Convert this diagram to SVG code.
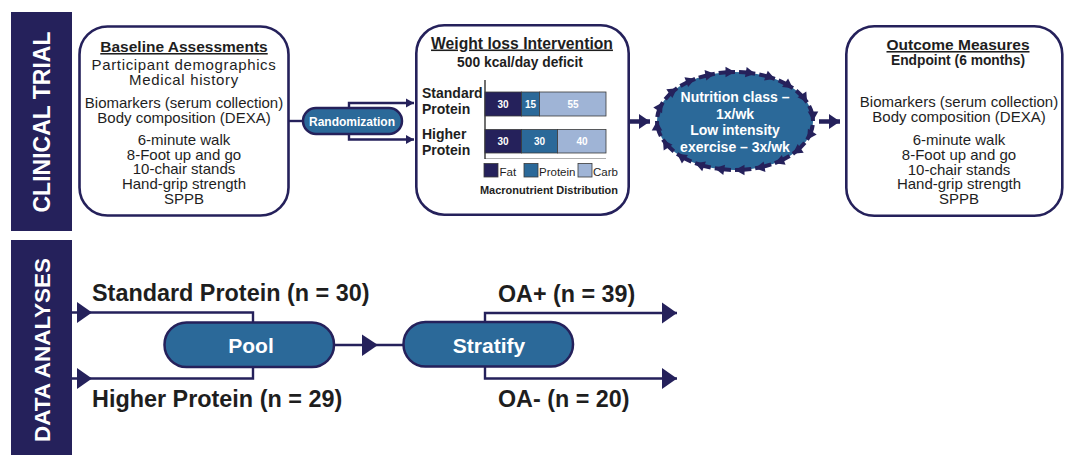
<svg xmlns="http://www.w3.org/2000/svg" width="1066" height="455" viewBox="0 0 1066 455">
<style>
.nav{fill:#25215b}
.box{fill:#fff;stroke:#25215b;stroke-width:2.6}
.pill{fill:#2b6999;stroke:#25215b;stroke-width:2.5}
.t{font-family:"Liberation Sans",Arial,sans-serif;fill:#1e1e1e}
.c{text-anchor:middle}
.b{font-weight:bold}
.w{fill:#fff}
.u{text-decoration:underline}
.ls{letter-spacing:0.65px}
.ln{fill:none;stroke:#25215b;stroke-width:2.4}
.thick{fill:none;stroke:#25215b;stroke-width:4.5}
.ring{fill:none;stroke:#25215b;stroke-width:4;stroke-dasharray:0 4 40 0;marker-end:url(#rh)}
.seg{stroke:#3a3a3a;stroke-width:0.8}
</style>
<defs>
<marker id="ah" markerUnits="userSpaceOnUse" markerWidth="9" markerHeight="10" refX="8" refY="4.5" orient="auto" overflow="visible"><path d="M0,0 L8,4.5 L0,9 Z" fill="#25215b"/></marker>
<marker id="bh" markerUnits="userSpaceOnUse" markerWidth="16" markerHeight="22" refX="15" refY="10.5" orient="auto" overflow="visible"><path d="M0,0 L15,10.5 L0,21 Z" fill="#25215b"/></marker>
<marker id="th" markerUnits="userSpaceOnUse" markerWidth="12" markerHeight="16" refX="11" refY="7.5" orient="auto" overflow="visible"><path d="M0,0 L11,7.5 L0,15 Z" fill="#25215b"/></marker>
<marker id="rh" markerUnits="userSpaceOnUse" markerWidth="11" markerHeight="11" refX="9.5" refY="5.25" orient="auto" overflow="visible"><path d="M0,0 L9.5,5.25 L0,10.5 Z" fill="#25215b"/></marker>
</defs>

<g id="section-clinical-trial">
<rect class="nav" x="11" y="12" width="61" height="219"/>
<text class="t b w c" font-size="23" transform="translate(50,122) rotate(-90)">CLINICAL TRIAL</text>
</g>
<g id="section-data-analyses">
<rect class="nav" x="11" y="240" width="61" height="215"/>
<text class="t b w c" font-size="22.5" transform="translate(50,350) rotate(-90)">DATA ANALYSES</text>
</g>

<g id="connectors">
<path class="ln" d="M288.5,121 H303"/>
<path class="ln" marker-end="url(#ah)" d="M349,108 V103 H414"/>
<path class="ln" marker-end="url(#ah)" d="M349,134 V139.5 H414"/>
<path class="thick" marker-end="url(#th)" d="M630,121.5 H650"/>
<path class="thick" marker-end="url(#th)" d="M819,121.5 H840"/>
<path class="ln" d="M72,312.5 H253 V322"/>
<path class="ln" d="M72,378.5 H253 V367"/>
<polygon points="77,302 92,312.5 77,323" fill="#25215b"/>
<polygon points="77,368 92,378.5 77,389" fill="#25215b"/>
<path class="ln" d="M334,345 H403"/>
<polygon points="362,334.5 378,345 362,356" fill="#25215b"/>
<path class="ln" marker-end="url(#bh)" d="M485,322 V313 H677"/>
<path class="ln" marker-end="url(#bh)" d="M485,367 V378.5 H677"/>
</g>

<g id="baseline-assessments">
<rect class="box" x="79.5" y="26.5" width="209" height="189" rx="28"/>
<text class="t b c u" font-size="15.5" x="184" y="52">Baseline Assessments</text>
<text class="t c ls" font-size="15" x="184" y="70">Participant demographics</text>
<text class="t c ls" font-size="15" x="184" y="85">Medical history</text>
<text class="t c" font-size="15" x="184" y="107.5">Biomarkers (serum collection)</text>
<text class="t c" font-size="15" x="184" y="122.5">Body composition (DEXA)</text>
<text class="t c" font-size="15" x="184" y="145">6-minute walk</text>
<text class="t c" font-size="15" x="184" y="159.5">8-Foot up and go</text>
<text class="t c" font-size="15" x="184" y="174">10-chair stands</text>
<text class="t c" font-size="15" x="184" y="188.5">Hand-grip strength</text>
<text class="t c" font-size="15" x="184" y="203.5">SPPB</text>
</g>

<g id="randomization">
<rect class="pill" x="303" y="108" width="99" height="26" rx="13"/>
<text class="t b w c" font-size="12" x="352" y="125.5">Randomization</text>
</g>

<g id="weight-loss-intervention">
<rect class="box" x="416.3" y="25.3" width="212.4" height="189.4" rx="28"/>
<text class="t b c u" font-size="15.7" x="522" y="48.5">Weight loss Intervention</text>
<text class="t b c" font-size="13.8" x="520" y="66.5">500 kcal/day deficit</text>
<text class="t b" font-size="14" x="422" y="97.5">Standard</text>
<text class="t b" font-size="14" x="422" y="113.5">Protein</text>
<text class="t b" font-size="14" x="422" y="138.5">Higher</text>
<text class="t b" font-size="14" x="422" y="155">Protein</text>
<line x1="485" y1="158.5" x2="606" y2="158.5" stroke="#9a9a9a" stroke-width="0.8"/>
<line x1="485" y1="80" x2="485" y2="159" stroke="#222" stroke-width="1.3"/>
<rect class="seg" x="485" y="92" width="36.5" height="24" fill="#25215b"/>
<rect class="seg" x="521.5" y="92" width="18" height="24" fill="#2b6999"/>
<rect class="seg" x="539.5" y="92" width="66.5" height="24" fill="#9fb4d6"/>
<rect class="seg" x="485" y="129.5" width="36.5" height="23.5" fill="#25215b"/>
<rect class="seg" x="521.5" y="129.5" width="36" height="23.5" fill="#2b6999"/>
<rect class="seg" x="557.5" y="129.5" width="48.5" height="23.5" fill="#9fb4d6"/>
<text class="t b w c" font-size="10" x="503" y="107.5">30</text>
<text class="t b w c" font-size="10" x="530.5" y="107.5">15</text>
<text class="t b w c" font-size="10" x="573" y="107.5">55</text>
<text class="t b w c" font-size="10" x="503" y="145">30</text>
<text class="t b w c" font-size="10" x="539.5" y="145">30</text>
<text class="t b w c" font-size="10" x="582" y="145">40</text>
<rect class="seg" x="484" y="163.5" width="14" height="13.5" fill="#25215b"/>
<text class="t" font-size="11.5" x="499.5" y="176" fill="#333">Fat</text>
<rect class="seg" x="524" y="163.5" width="14" height="13.5" fill="#2b6999"/>
<text class="t" font-size="11.5" x="539" y="176" fill="#333">Protein</text>
<rect class="seg" x="578" y="163.5" width="14" height="13.5" fill="#9fb4d6"/>
<text class="t" font-size="11.5" x="593" y="176" fill="#333">Carb</text>
<text class="t b c" font-size="11" x="549" y="193.5">Macronutrient Distribution</text>
</g>

<g id="nutrition-exercise-cycle">
<ellipse cx="735" cy="121" rx="78" ry="49" fill="#2b6999"/>
<path class="ring" d="M813,121 A78,49 0 0 1 807.11,139.67"/>
<path class="ring" d="M807.11,139.67 A78,49 0 0 1 792.88,153.85"/>
<path class="ring" d="M792.88,153.85 A78,49 0 0 1 774.82,163.13"/>
<path class="ring" d="M774.82,163.13 A78,49 0 0 1 755.19,168.33"/>
<path class="ring" d="M755.19,168.33 A78,49 0 0 1 735,170"/>
<path class="ring" d="M735,170 A78,49 0 0 1 714.81,168.33"/>
<path class="ring" d="M714.81,168.33 A78,49 0 0 1 695.18,163.13"/>
<path class="ring" d="M695.18,163.13 A78,49 0 0 1 677.12,153.85"/>
<path class="ring" d="M677.12,153.85 A78,49 0 0 1 662.89,139.67"/>
<path class="ring" d="M662.89,139.67 A78,49 0 0 1 657,121"/>
<path class="ring" d="M657,121 A78,49 0 0 1 662.89,102.33"/>
<path class="ring" d="M662.89,102.33 A78,49 0 0 1 677.12,88.15"/>
<path class="ring" d="M677.12,88.15 A78,49 0 0 1 695.18,78.87"/>
<path class="ring" d="M695.18,78.87 A78,49 0 0 1 714.81,73.67"/>
<path class="ring" d="M714.81,73.67 A78,49 0 0 1 735,72"/>
<path class="ring" d="M735,72 A78,49 0 0 1 755.19,73.67"/>
<path class="ring" d="M755.19,73.67 A78,49 0 0 1 774.82,78.87"/>
<path class="ring" d="M774.82,78.87 A78,49 0 0 1 792.88,88.15"/>
<path class="ring" d="M792.88,88.15 A78,49 0 0 1 807.11,102.33"/>
<path class="ring" d="M807.11,102.33 A78,49 0 0 1 813,121"/>
<text class="t b w c" font-size="14" x="735" y="102">Nutrition class –</text>
<text class="t b w c" font-size="14" x="735" y="118.5">1x/wk</text>
<text class="t b w c" font-size="14" x="735" y="135">Low intensity</text>
<text class="t b w c" font-size="14" x="735" y="151.5">exercise – 3x/wk</text>
</g>

<g id="outcome-measures">
<rect class="box" x="846.3" y="26.3" width="216" height="189.5" rx="28"/>
<text class="t b c u" font-size="15.5" x="958" y="50">Outcome Measures</text>
<text class="t b c" font-size="13.8" x="958" y="64.5">Endpoint (6 months)</text>
<text class="t c" font-size="15" x="959" y="107">Biomarkers (serum collection)</text>
<text class="t c" font-size="15" x="959" y="121.5">Body composition (DEXA)</text>
<text class="t c" font-size="15" x="959" y="145">6-minute walk</text>
<text class="t c" font-size="15" x="959" y="159.5">8-Foot up and go</text>
<text class="t c" font-size="15" x="959" y="174.5">10-chair stands</text>
<text class="t c" font-size="15" x="959" y="189">Hand-grip strength</text>
<text class="t c" font-size="15" x="959" y="204">SPPB</text>
</g>

<g id="standard-protein-label">
<text class="t b" font-size="23.4" x="92" y="301">Standard Protein (n = 30)</text>
</g>
<g id="higher-protein-label">
<text class="t b" font-size="23.4" x="92" y="407">Higher Protein (n = 29)</text>
</g>
<g id="pool">
<rect class="pill" x="164.5" y="322.5" width="169.5" height="44.5" rx="22"/>
<text class="t b w c" font-size="21" x="251" y="352.5">Pool</text>
</g>
<g id="stratify">
<rect class="pill" x="403.5" y="322" width="169.5" height="44.5" rx="22"/>
<text class="t b w c" font-size="21" x="489" y="352.5">Stratify</text>
</g>
<g id="oa-plus-label">
<text class="t b" font-size="23.3" x="498" y="301.5">OA+ (n = 39)</text>
</g>
<g id="oa-minus-label">
<text class="t b" font-size="23.3" x="498" y="406.5">OA- (n = 20)</text>
</g>
</svg>
